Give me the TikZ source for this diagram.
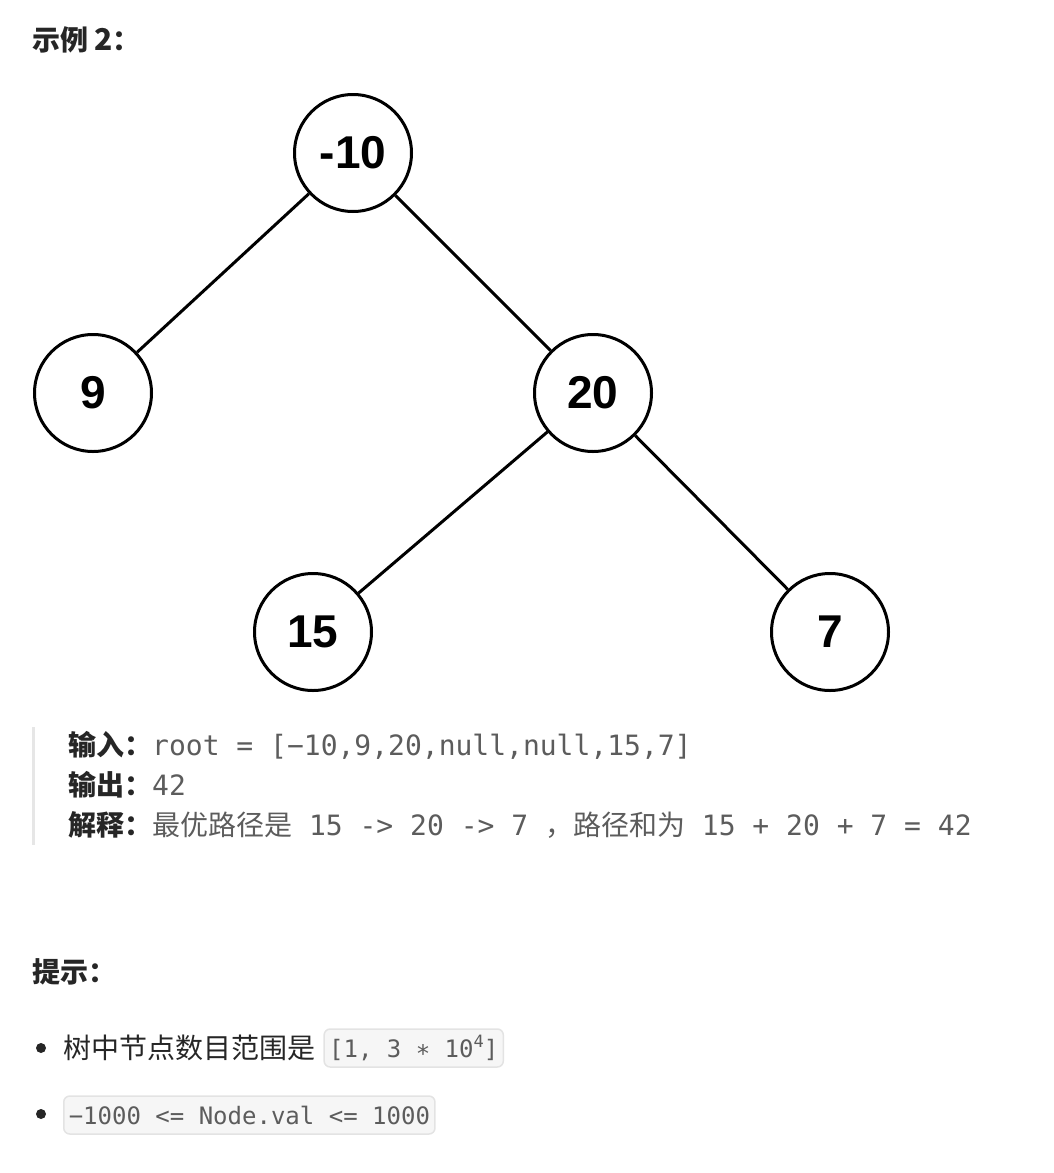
\documentclass[tikz,border=0pt]{standalone}
\usepackage{fontspec}
\setmainfont{Liberation Sans}
\newfontfamily\cjk{Noto Sans CJK SC}
\newfontfamily\code{DejaVu Sans Mono}
\usetikzlibrary{positioning}
\definecolor{inkcolor}{HTML}{262626}
\definecolor{codecolor}{HTML}{5C5C5C}
\definecolor{barcolor}{HTML}{E6E6E6}
\definecolor{boxfill}{HTML}{F6F6F6}
\definecolor{boxline}{HTML}{E3E3E3}

\tikzset{
  treenode/.style={circle, draw, line width=3pt, minimum size=117pt, inner sep=0pt,
    font=\fontsize{46}{46}\selectfont\bfseries},
  treeedge/.style={line width=3pt},
  headline/.style={anchor=west, inner sep=0pt, text=inkcolor,
    font=\fontsize{28}{34}\selectfont\cjk\bfseries},
  textline/.style={anchor=west, inner sep=0pt, text=inkcolor,
    font=\fontsize{28}{34}\selectfont},
  codebox/.style={draw=boxline, fill=boxfill, rounded corners=6pt, line width=1.5pt,
    minimum height=38pt, inner xsep=5pt, inner ysep=0pt, text=codecolor,
    font=\fontsize{24}{24}\selectfont\code}
}

\newcommand{\lbl}[1]{{\cjk\bfseries #1}}
\newcommand{\txt}[1]{{\color{codecolor}\cjk #1}}
\newcommand{\mono}[1]{{\color{codecolor}\code #1}}

\begin{document}
\begin{tikzpicture}[x=1pt, y=-1pt]
  \useasboundingbox (0,0) rectangle (1054,1173);
  % Heading
  \node[headline] (head) at (32,40) {示例\hspace{6pt}{\fontsize{30}{34}\selectfont 2}：};
  % Tree nodes
  \node[treenode] (root) at (353,153) {-10};
  \node[treenode] (n9)   at (93,393)  {9};
  \node[treenode] (n20)  at (593,393) {20};
  \node[treenode] (n15)  at (313,632) {15};
  \node[treenode] (n7)   at (830,632) {7};
  % Tree edges
  \draw[treeedge] (root) -- (n9);
  \draw[treeedge] (root) -- (n20);
  \draw[treeedge] (n20) -- (n15);
  \draw[treeedge] (n20) -- (n7);
  % Quote bar
  \fill[barcolor] (32,727) rectangle (35,845);
  % Input / output / explanation
  \node[textline] (input) at (68,745)
    {\lbl{输入：}\mono{root = [−10,9,20,null,null,15,7]}};
  \node[textline] (output) at (68,785)
    {\lbl{输出：}\mono{42}};
  \node[textline] (explain) at (68,825)
    {\lbl{解释：}\txt{最优路径是}\mono{\ 15 -> 20 -> 7\ }\txt{，路径和为}\mono{\ 15 + 20 + 7 = 42}};
  % Hints
  \node[headline] (hint) at (32,972) {提示：};
  \fill[inkcolor] (41,1048) circle (5);
  \fill[inkcolor] (41,1114) circle (5);
  \node[textline] (item1) at (63,1048) {\cjk 树中节点数目范围是};
  \node[codebox, anchor=west, right=8pt of item1] (range)
    {[1, 3 ∗ 10\raisebox{0.42em}{\fontsize{17}{17}\selectfont 4}]};
  \node[codebox, anchor=west] (bound) at (63,1115) {−1000 <= Node.val <= 1000};
\end{tikzpicture}
\end{document}
